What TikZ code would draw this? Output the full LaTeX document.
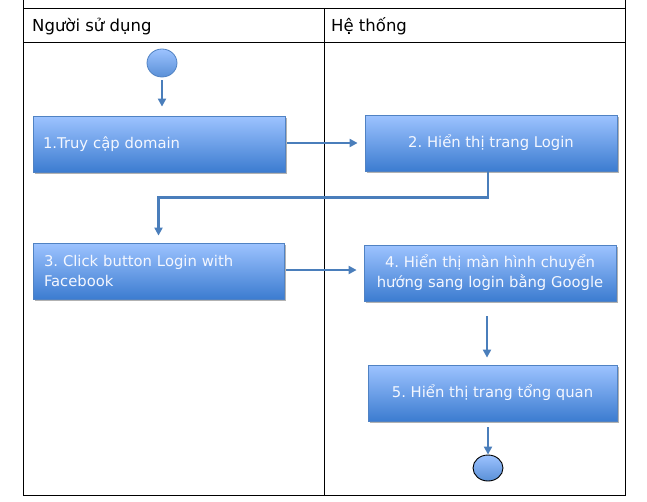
\documentclass[tikz,border=0pt]{standalone}
\usepackage{fontspec}
\setmainfont{DejaVu Sans}
\usetikzlibrary{arrows.meta,shadows,calc,shapes.geometric}
\definecolor{lineblue}{RGB}{74,126,187}
\definecolor{boxborder}{RGB}{80,130,195}
\definecolor{topblue}{RGB}{157,195,255}
\definecolor{botblue}{RGB}{60,124,208}
\definecolor{txt}{RGB}{244,247,255}
\frenchspacing
\begin{document}
\begin{tikzpicture}[x=1pt,y=-1pt,
  tbl/.style={draw=black, line width=1pt},
  headtxt/.style={font=\fontsize{16.5}{20}\selectfont, text=black, inner sep=0pt},
  actbox/.style={draw=boxborder, line width=0.8pt, top color=topblue, bottom color=botblue,
    minimum width=252pt, minimum height=56pt, inner sep=0pt,
    drop shadow={shadow xshift=1.5pt, shadow yshift=-1.5pt, opacity=0.3, fill=black},
    font=\fontsize{14.8}{20}\selectfont, text=txt},
  leftbox/.style={actbox, text width=232pt, align=left},
  centbox/.style={actbox, align=center},
  startnode/.style={ellipse, draw=boxborder, line width=0.8pt, top color=topblue, bottom color=botblue!85,
    minimum width=30pt, minimum height=28pt, inner sep=0pt},
  endnode/.style={ellipse, draw=black, line width=0.9pt, top color=topblue, bottom color=botblue!85,
    minimum width=30pt, minimum height=26pt, inner sep=0pt},
  flow/.style={draw=lineblue, line width=2.6pt, -{Triangle[length=8pt,width=8pt]}}
]
\useasboundingbox (0,0) rectangle (647,501);
% swimlane table
\draw[tbl] (23,0) -- (23,495) -- (625,495) -- (625,0);
\draw[tbl] (23,8) -- (625,8);
\draw[tbl] (23,42) -- (625,42);
\draw[tbl] (324,8) -- (324,495);
\node[headtxt, anchor=base west] (h1) at (32,31) {Người sử dụng};
\node[headtxt, anchor=base west] (h2) at (331,31) {Hệ thống};
% nodes
\node[startnode] (start) at (162,63) {};
\node[leftbox] (b1) at (159,144) {1.Truy cập domain};
\node[centbox] (b2) at (491,143) {2. Hiển thị trang Login};
\node[leftbox, minimum width=251pt, text width=229pt] (b3) at (158.5,271) {3. Click button Login with\\Facebook};
\node[centbox] (b4) at (490,273) {4. Hiển thị màn hình chuyển\\hướng sang login bằng Google};
\node[centbox, minimum width=249pt] (b5) at (492.5,393) {5. Hiển thị trang tổng quan};
\node[endnode] (end) at (488,468) {};
% connectors
\draw[flow] ($(start.south)+(0,3)$) -- ($(b1.north -| start.south)+(0,-9)$);
\draw[flow] ($(b1.east |- b2.west)+(2,0)$) -- ($(b2.west)+(-7,0)$);
\draw[flow] ($(b2.south)+(-3,0)$) -- ++(0,26) -| ($(b3.north)+(0,-7)$);
\draw[flow] ($(b3.east)+(2,-1)$) -- ($(b4.west |- b3.east)+(-7,-1)$);
\draw[flow] ($(b4.south)+(-3,15)$) -- ($(b5.north -| b4.south)+(-3,-7)$);
\draw[flow] ($(b5.south -| end.north)+(0,6)$) -- (end.north);
\end{tikzpicture}
\end{document}
